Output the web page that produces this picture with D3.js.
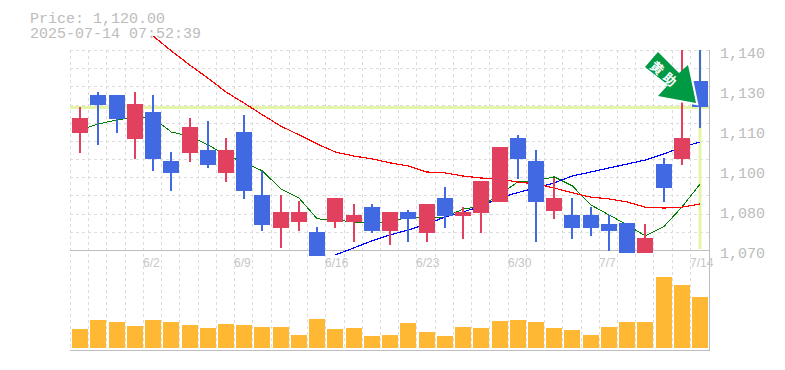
<!DOCTYPE html>
<html>
<head>
<meta charset="utf-8">
<script src="https://cdnjs.cloudflare.com/ajax/libs/d3/7.8.5/d3.min.js"></script>
<style>
html, body { margin: 0; padding: 0; background: #fff; overflow: hidden; }
svg { display: block; }
text { fill: #bcbcbc; }
</style>
</head>
<body>
<svg id="chart" width="785" height="370"></svg>
<script>
var dates = ["5/27","5/28","5/29","5/30","6/2","6/3","6/4","6/5","6/6","6/9","6/10","6/11","6/12","6/13","6/16","6/17","6/18","6/19","6/20","6/23","6/24","6/25","6/26","6/27","6/30","7/1","7/2","7/3","7/4","7/7","7/8","7/9","7/10","7/11","7/14"];
var xLabels = ["6/2","6/9","6/16","6/23","6/30","7/7","7/14"];

var open  = [1111,1124.2,1124.2,1108.9,1118.3,1101.2,1104,1105,1097,1111.3,1089.2,1077.7,1079.8,1076.3,1079.8,1079.8,1085,1076.7,1083.3,1076,1088.2,1081.9,1082.9,1086.8,1109.2,1101.2,1083.7,1082.3,1082.3,1079.1,1079.6,1069,1100.1,1101.9,1129.2];
var close = [1116.2,1120.8,1115.8,1121.1,1101.9,1097,1113,1099.8,1105,1090.6,1078.8,1083.3,1083.3,1067.9,1088.2,1082.3,1076.7,1083.3,1080.9,1086.1,1081.9,1083.3,1094.2,1106,1101.9,1086.8,1088.2,1077.7,1077.7,1076.7,1069,1074.2,1091.7,1109.2,1120];
var high  = [1120,1125.3,1124.2,1125.3,1124.2,1104.3,1116.2,1115.2,1109.2,1117.2,1097.6,1089.2,1087.2,1078,1088.2,1086.1,1086.1,1083.3,1084,1086.1,1092,1085,1094.2,1106,1110.3,1105,1095.2,1088.2,1085,1082.3,1079.6,1079.1,1102.2,1140,1140];
var low   = [1104,1106.8,1111,1101.9,1097.6,1090.6,1100.8,1098.7,1093.8,1087.9,1076.7,1070.7,1076.7,1067.9,1077.7,1072.8,1076,1071.8,1072.8,1072.8,1077.7,1073.9,1076,1086.8,1094.9,1072.8,1080.9,1073.9,1074.9,1069.6,1069,1069,1086.8,1099.8,1112.7];
var volume = [19,28,26,22,28,26,23,20,24,23,21,21,13,29,19,20,12,13,25,16,12,21,20,27,28,26,20,18,13,21,26,26,71,63,51];

var maShort = [1112,1114.1,1115.5,1116.5,1116.2,1111.3,1109.9,1106.8,1103.3,1100.5,1097.7,1091.4,1088.2,1080.9,1080.5,1079.8,1079.8,1079.8,1081.5,1081.5,1081.5,1084.3,1085.4,1089.3,1093.8,1094.2,1095.6,1092.4,1085.8,1082.3,1078.8,1074.9,1078.1,1085,1093.1];
var maMid = [null,null,null,null,1144.9,1139.7,1134.8,1130.2,1125.3,1121.4,1117.3,1113.4,1110.3,1107.1,1104.3,1102.9,1101.9,1100.5,1099.4,1097.3,1097,1095.9,1095.2,1094.8,1093.8,1093.1,1091.7,1090,1088.5,1087.9,1086.8,1085,1084.7,1085,1086.1];
var maLong = [null,null,null,null,null,null,null,null,null,null,null,null,null,null,1068.3,1070.7,1073.2,1075.3,1077,1079.1,1081.5,1083.3,1085.4,1088.2,1090.1,1091.7,1093.5,1095.9,1097.3,1098.7,1100.1,1101.5,1103.6,1106,1107.8];

var priceNow = 1120;
var priceTicks = [1140,1126,1112,1098,1084,1070];
var priceLabels = ["1,140","1,130","1,110","1,100","1,080","1,070"];

var svg = d3.select("#chart");
var mono = "'Liberation Mono', monospace";

var x = d3.scaleBand().domain(dates).range([71, 709.2]).paddingInner(0);
var y = d3.scaleLinear().domain([1070, 1140]).range([250, 50]);
var yVol = d3.scaleLinear().domain([0, 71]).range([348, 277]);
var cx = function(d) { return Math.round(x(d) + x.bandwidth() / 2); };

// grid
var grid = svg.append("g").attr("stroke", "#dcdcdc").attr("stroke-dasharray", "3,3").attr("stroke-width", 1);
dates.forEach(function(d) {
  var gx = Math.round(x(d) - 1) + 0.5;
  grid.append("line").attr("x1", gx).attr("x2", gx).attr("y1", 50).attr("y2", 350);
});
d3.range(0, 11).forEach(function(i) {
  var gy = Math.round(50 + i * 200 / 11) + 0.5;
  grid.append("line").attr("x1", 70).attr("x2", 709).attr("y1", gy).attr("y2", gy);
});

// current price lines
svg.append("rect").attr("x", 70).attr("width", 639).attr("y", Math.round(y(priceNow)) - 1).attr("height", 3).attr("fill", "#e4f5a9");
svg.append("rect").attr("x", cx("7/14") - 1.5).attr("width", 3).attr("y", 50).attr("height", 199).attr("fill", "#e4f5a9");

// axes frame
var frame = svg.append("g").attr("stroke", "#bdbdbd").attr("stroke-width", 1);
frame.append("line").attr("x1", 70).attr("x2", 710).attr("y1", 250.5).attr("y2", 250.5);
frame.append("line").attr("x1", 70).attr("x2", 710).attr("y1", 350.5).attr("y2", 350.5);
frame.append("line").attr("x1", 709.5).attr("x2", 709.5).attr("y1", 50).attr("y2", 351);

// moving averages
function drawLine(values, color, w) {
  var line = d3.line()
    .defined(function(d) { return d !== null; })
    .x(function(d, i) { return x(dates[i]) + x.bandwidth() / 2; })
    .y(function(d) { return y(d); });
  svg.append("path").attr("d", line(values)).attr("fill", "none").attr("stroke", color)
    .attr("stroke-width", w).attr("shape-rendering", "crispEdges");
}
drawLine(maShort, "#008000", 1);
drawLine(maLong, "#0000ff", 1.2);
drawLine(maMid, "#ff0000", 1.2);

// candles
var up = "#e2405f", down = "#4169e1";
var candle = svg.append("g").selectAll("g").data(dates).enter().append("g")
  .attr("fill", function(d, i) { return close[i] >= open[i] ? up : down; });
candle.append("rect")
  .attr("x", function(d) { return cx(d) - 1; })
  .attr("width", 2)
  .attr("y", function(d, i) { return Math.round(y(high[i])); })
  .attr("height", function(d, i) { return Math.round(y(low[i])) - Math.round(y(high[i])); });
candle.append("rect")
  .attr("x", function(d) { return cx(d) - 8; })
  .attr("width", 16)
  .attr("y", function(d, i) { return Math.round(y(Math.max(open[i], close[i]))); })
  .attr("height", function(d, i) { return Math.round(y(Math.min(open[i], close[i]))) - Math.round(y(Math.max(open[i], close[i]))); });

// volume
svg.append("g").selectAll("rect").data(volume).enter().append("rect")
  .attr("x", function(d, i) { return cx(dates[i]) - 8; })
  .attr("width", 16)
  .attr("y", function(d) { return yVol(d); })
  .attr("height", function(d) { return 348 - yVol(d); })
  .attr("fill", "#ffb833");

// signal arrow, white edge only on the head
var arrow = svg.append("g").attr("transform", "translate(696,103)");
arrow.append("path").attr("d", "M-7,-38 L1,1 L-38,-6").attr("fill", "none").attr("stroke", "#fff").attr("stroke-width", 2.5);
arrow.append("path").attr("d", "M-38,-51 L-17,-30 L-8,-38 L0,0 L-38,-7 L-28,-18 L-51,-36 Z").attr("fill", "#009944");
arrow.append("text").attr("transform", "translate(-31,-28) rotate(42)").attr("text-anchor", "middle").attr("y", 5)
  .style("font-family", "'Noto Sans CJK JP'").style("font-size", "13px").style("font-weight", "700").style("fill", "#fff")
  .attr("letter-spacing", 4).text("黄助");

// header, one text with two lines
var header = svg.append("text").style("font", "15px " + mono);
header.append("tspan").attr("x", 30).attr("y", 23).text("Price: 1,120.00");
header.append("tspan").attr("x", 30).attr("y", 38).text("2025-07-14 07:52:39");

svg.append("g").selectAll("text").data(priceLabels).enter().append("text")
  .attr("x", 720).attr("y", function(d, i) { return y(priceTicks[i]) + 8; })
  .style("font", "15px " + mono).text(function(d) { return d; });

svg.append("g").selectAll("text").data(xLabels).enter().append("text")
  .attr("x", function(d) { return Math.round(x(d) - 1); })
  .attr("y", 267)
  .style("font", "12px 'Liberation Sans', sans-serif").style("fill", "#c6c6c6").text(function(d) { return d; });
</script>
</body>
</html>
